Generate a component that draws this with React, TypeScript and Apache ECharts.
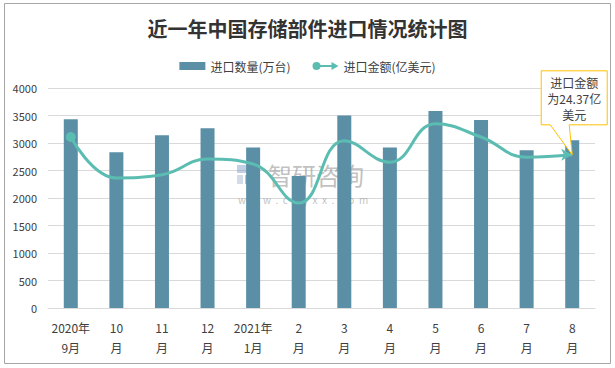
import React, { useEffect, useRef } from "react";
import * as echarts from "echarts";

const title = "近一年中国存储部件进口情况统计图";
const categories = ["2020年\n9月", "10\n月", "11\n月", "12\n月", "2021年\n1月", "2\n月", "3\n月", "4\n月", "5\n月", "6\n月", "7\n月", "8\n月"];
const quantityName = "进口数量(万台)";
const amountName = "进口金额(亿美元)";
const quantity = [3430, 2830, 3140, 3270, 2920, 2400, 3500, 2920, 3580, 3420, 2870, 3050];
const amount = [27.2, 20.7, 21.2, 23.7, 22.9, 16.7, 26.6, 23.2, 29.3, 27.2, 24.0, 24.37];
const yMax = 4000;
const yInterval = 500;
const y2Max = 35;

const FONT = "'Noto Sans CJK SC', 'Noto Sans', sans-serif";
const BAR = "#5b8fa6";
const LINE = "#5bbdb1";

export default function App() {
  const ref = useRef<HTMLDivElement>(null);
  useEffect(() => {
    if (!ref.current) return;
    const chart = echarts.init(ref.current, null, { renderer: "svg" });
    const last = amount.length - 1;
    const lineData = amount.map((v, i) => {
      if (i === 0) return { value: v, symbol: "circle", symbolSize: 10 };
      if (i === last) return { value: v, symbol: "arrow", symbolSize: [9, 11], symbolRotate: -90 };
      return { value: v, symbol: "none" };
    });
    chart.setOption({
      animation: false,
      backgroundColor: "#ffffff",
      textStyle: { fontFamily: FONT },
      title: {
        text: title,
        left: "center",
        top: 13,
        textStyle: { fontSize: 20, fontWeight: "bold", color: "#333333", fontFamily: FONT },
      },
      legend: {
        top: 55,
        left: "center",
        itemGap: 22,
        itemWidth: 26,
        itemHeight: 8,
        textStyle: { fontSize: 12, color: "#404040", fontFamily: FONT },
        data: [
          { name: quantityName, icon: "rect" },
          { name: amountName, icon: "path://M4,0A4,4 0 1,1 4,8A4,4 0 1,1 4,0Z M4,3H20V5H4Z M19,0L26,4L19,8Z" },
        ],
      },
      grid: { left: 48, right: 20, top: 88, bottom: 60, containLabel: false },
      xAxis: {
        type: "category",
        data: categories,
        axisTick: { show: false },
        axisLine: { lineStyle: { color: "#d9d9d9" } },
        axisLabel: { color: "#404040", fontSize: 12, lineHeight: 20, margin: 9, fontFamily: FONT, interval: 0 },
      },
      yAxis: [
        {
          type: "value",
          min: 0,
          max: yMax,
          interval: yInterval,
          axisLine: { show: false },
          axisTick: { show: false },
          axisLabel: { color: "#404040", fontSize: 11, margin: 11, fontFamily: FONT, formatter: (v: number) => String(v) },
          splitLine: { lineStyle: { color: "#d9d9d9" } },
        },
        { type: "value", min: 0, max: y2Max, show: false, splitLine: { show: false } },
      ],
      series: [
        {
          name: quantityName,
          type: "bar",
          data: quantity,
          barWidth: 14,
          itemStyle: { color: BAR },
        },
        {
          name: amountName,
          type: "line",
          yAxisIndex: 1,
          data: lineData,
          smooth: 0.45,
          showAllSymbol: true,
          lineStyle: { color: LINE, width: 3 },
          itemStyle: { color: LINE },
          z: 3,
        },
      ],
    });
    const p = chart.convertToPixel({ seriesIndex: 1 }, [last, amount[last]]) as number[];
    const px = p[0], py = p[1];
    const l = px - 31, r = px + 35, t = py - 84, b = py - 30;
    const cx = (l + r) / 2;
    chart.setOption({
      graphic: [
        {
          type: "rect",
          shape: { x: 4.5, y: 3.5, width: 606, height: 360 },
          style: { fill: "none", stroke: "#a6a6a6", lineWidth: 1 },
          silent: true,
          z: 100,
        },
        {
          type: "group",
          silent: true,
          z: 50,
          children: [
            { type: "rect", shape: { x: 237, y: 165, width: 10, height: 8 }, style: { fill: "rgba(120,150,200,0.45)" } },
            { type: "rect", shape: { x: 249, y: 165, width: 10, height: 8 }, style: { fill: "rgba(120,150,200,0.45)" } },
            { type: "rect", shape: { x: 237, y: 175, width: 6, height: 9 }, style: { fill: "rgba(160,175,205,0.45)" } },
            { type: "rect", shape: { x: 245, y: 175, width: 14, height: 9 }, style: { fill: "rgba(90,140,210,0.5)" } },
            {
              type: "text",
              x: 268,
              y: 174,
              style: { text: "智研咨询", font: `24px ${FONT}`, fill: "rgba(140,140,140,0.55)", verticalAlign: "middle" },
            },
            {
              type: "text",
              x: 238,
              y: 199,
              style: { text: "w  w  w  .  c  h  y  x  x  .  c  o  m", font: `10px ${FONT}`, fill: "rgba(140,140,140,0.55)", verticalAlign: "middle" },
            },
          ],
        },
        {
          type: "polygon",
          silent: true,
          z: 60,
          shape: {
            points: [
              [l, t], [r, t], [r, b], [px - 3, b], [px, py], [px - 22, b], [l, b],
            ],
          },
          style: { fill: "#ffffff", stroke: "#ffc000", lineWidth: 1 },
        },
        {
          type: "text",
          silent: true,
          z: 61,
          x: cx,
          y: t + 4,
          style: {
            text: `进口金额\n为${amount[last]}亿\n美元`,
            font: `12px ${FONT}`,
            lineHeight: 16,
            fill: "#404040",
            align: "center",
            verticalAlign: "top",
          },
        },
      ],
    });
    return () => chart.dispose();
  }, []);
  return (
    <div
      ref={ref}
      style={{ position: "fixed", left: 0, top: 0, width: 615, height: 368, background: "#ffffff" }}
    />
  );
}
